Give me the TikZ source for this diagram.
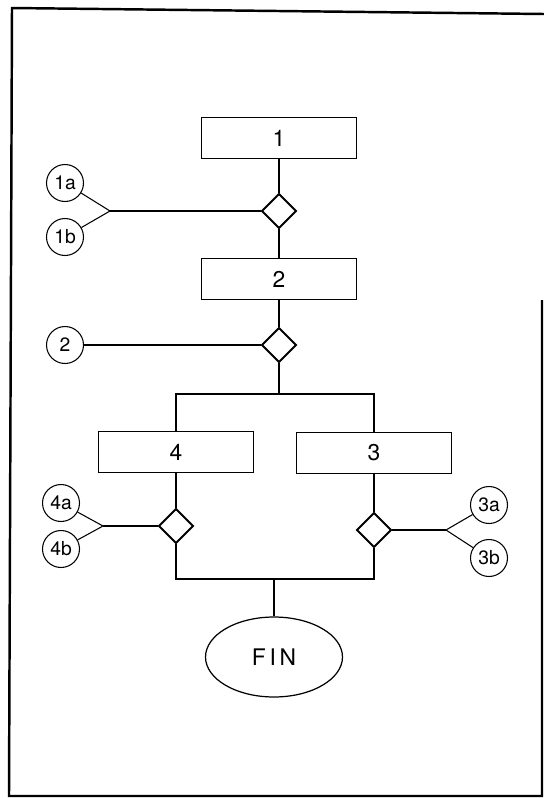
\documentclass[tikz,border=0pt]{standalone}
\usepackage{fontspec}
\setsansfont{TeX Gyre Heros}
\usetikzlibrary{shapes.geometric,positioning}
\tikzset{
  stepbox/.style={draw,line width=1.1pt,minimum width=3.1cm,minimum height=0.82cm,
    font=\sffamily\fontsize{13}{15}\selectfont},
  testbox/.style={draw,diamond,line width=1.1pt,minimum size=0.7cm,inner sep=0pt},
  refcirc/.style={draw,circle,line width=0.6pt,minimum size=0.74cm,inner sep=0pt,
    font=\sffamily\fontsize{11}{13}\selectfont},
  link/.style={line width=0.6pt},
}

\begin{document}
\begin{tikzpicture}[x=0.02cm,y=-0.02cm]
  \useasboundingbox (0,0) rectangle (544,798);
  \draw[line width=1.4pt] (544,14) -- (12,8) -- (9,796) -- (542,796) -- (542,300);

  \node[stepbox] (b1) at (279,138) {1};
  \node[testbox] (d1) at (279,211) {};
  \node[stepbox] (b2) at (279,279) {2};
  \node[testbox] (d2) at (279,345) {};
  \node[stepbox] (b4) at (176,452) {4};
  \node[stepbox] (b3) at (374,453) {3};
  \node[testbox] (d4) at (176,526) {};
  \node[testbox] (d3) at (374,530) {};
  \node[draw,ellipse,line width=0.7pt,minimum width=2.74cm,minimum height=1.6cm,
    font=\sffamily\fontsize{13}{15}\selectfont] (fin) at (274,657) {F\,I\,N};

  \foreach \n/\x/\y in {1a/65/183,1b/65/237,2/65/345,4a/61/503,4b/61/549,3a/489/505,3b/489/558}
    \node[refcirc] (c\n) at (\x,\y) {\n};

  \coordinate (j1) at (110,211);
  \coordinate (j4) at (103,526);
  \coordinate (j3) at (446,530);
  \coordinate (split) at (279,394);
  \coordinate (merge) at (274,579);

  \draw[link] (b1) -- (d1);
  \draw[link] (d1) -- (b2);
  \draw[link] (b2) -- (d2);
  \draw[link] (d2) -- (split);
  \draw[link] (b4.north) |- (split) -| (b3.north);
  \draw[link] (b4) -- (d4);
  \draw[link] (b3) -- (d3);
  \draw[link] (d4.south) |- (merge) -| (d3.south);
  \draw[link] (merge) -- (fin);

  \draw[link] (c1a) -- (j1) -- (c1b);
  \draw[link] (j1) -- (d1);
  \draw[link] (c2) -- (d2);
  \draw[link] (c4a) -- (j4) -- (c4b);
  \draw[link] (j4) -- (d4);
  \draw[link] (c3a) -- (j3) -- (c3b);
  \draw[link] (j3) -- (d3);
\end{tikzpicture}
\end{document}
